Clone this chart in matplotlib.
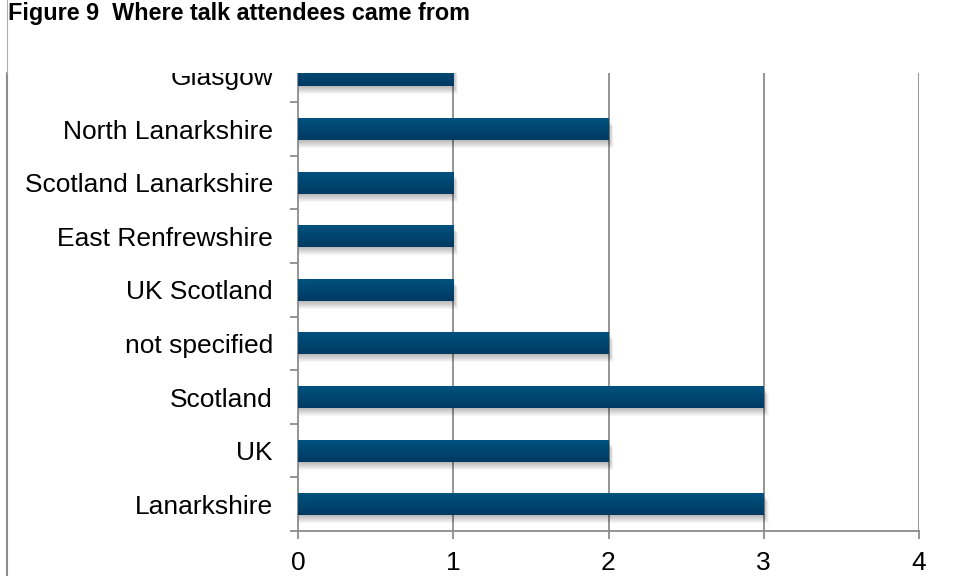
import numpy as np
import matplotlib
matplotlib.use("Agg")
import matplotlib.pyplot as plt
from matplotlib.patches import Rectangle
from matplotlib.colors import LinearSegmentedColormap
from matplotlib.lines import Line2D

# ==========================
# Données
# ==========================

regions = [
    "Lanarkshire",
    "UK",
    "Scotland",
    "not specified",
    "UK Scotland",
    "East Renfrewshire",
    "Scotland Lanarkshire",
    "North Lanarkshire",
    "Glasgow",
]
attendees = [3, 2, 3, 2, 1, 1, 1, 2, 1]
x_ticks = [0, 1, 2, 3, 4]

title = "Figure 9  Where talk attendees came from"

# ==========================
# Figure
# ==========================

plt.rcParams["font.family"] = ["Liberation Sans", "DejaVu Sans"]

W, H = 957, 576
fig = plt.figure(figsize=(W / 100, H / 100), dpi=100)
fig.patch.set_facecolor("white")

ax_left, ax_right, ax_bottom, ax_top = 298, 919, 531, 73
ax = fig.add_axes([
    ax_left / W,
    (H - ax_bottom) / H,
    (ax_right - ax_left) / W,
    (ax_bottom - ax_top) / H,
])

grey = "#8c8c8c"
bar_h = 0.41
y_max = 8.045

# pixels -> unités de données
px = 4 / (ax_right - ax_left)
py = (y_max + 0.5) / (ax_bottom - ax_top)

cmap = LinearSegmentedColormap.from_list("bar", ["#003a62", "#00527f"])
grad = np.linspace(0, 1, 64).reshape(-1, 1)

for i, v in enumerate(attendees):
    y0 = i - bar_h / 2
    # ombre portée
    for d in range(1, 9):
        ax.add_patch(Rectangle(
            (0.0, y0 - d * py),
            v + d * px * 0.6,
            bar_h,
            facecolor="#000000",
            edgecolor="none",
            alpha=0.035,
            zorder=2,
        ))
    # barre en dégradé
    ax.imshow(
        grad,
        extent=(0, v, y0, y0 + bar_h),
        origin="lower",
        cmap=cmap,
        aspect="auto",
        interpolation="bilinear",
        zorder=3,
    )

# grille verticale
for xv in x_ticks[1:]:
    ax.axvline(xv, color=grey, lw=1.3, zorder=1)

for side in ["top", "right"]:
    ax.spines[side].set_visible(False)
for side in ["left", "bottom"]:
    ax.spines[side].set_color(grey)
    ax.spines[side].set_linewidth(1.3)

ax.set_xticks(x_ticks)
ax.set_xticklabels([str(t) for t in x_ticks], fontsize=19)
ax.tick_params(axis="x", length=5.5, width=1.3, color=grey, pad=9)

# étiquettes au centre, graduations entre les catégories
ax.set_yticks(range(len(regions)))
ax.set_yticklabels(regions, fontsize=19)
ax.tick_params(axis="y", which="major", length=0, pad=18)
ax.set_yticks(np.arange(-0.5, len(regions) - 1, 1.0), minor=True)
ax.tick_params(axis="y", which="minor", length=5.5, width=1.3, color=grey)

ax.set_xlim(0, 4)
ax.set_ylim(-0.5, y_max)

# bandeau blanc du titre
fig.patches.append(Rectangle(
    (0, (H - ax_top) / H), 1, ax_top / H,
    transform=fig.transFigure, facecolor="white", edgecolor="none",
    zorder=10,
))

fig.text(8 / W, (H - 20) / H, title, fontsize=16.8, fontweight="bold",
         ha="left", va="baseline", zorder=11)

# trait vertical à gauche
fig.add_artist(Line2D([6.5 / W, 6.5 / W], [0, (H - ax_top) / H],
                      transform=fig.transFigure, color=grey, lw=1.5,
                      zorder=11))
fig.add_artist(Line2D([6.5 / W, 6.5 / W], [(H - ax_top) / H, 1],
                      transform=fig.transFigure, color="#b0b0b0", lw=0.8,
                      zorder=11))

fig.savefig("out.png", dpi=100)
